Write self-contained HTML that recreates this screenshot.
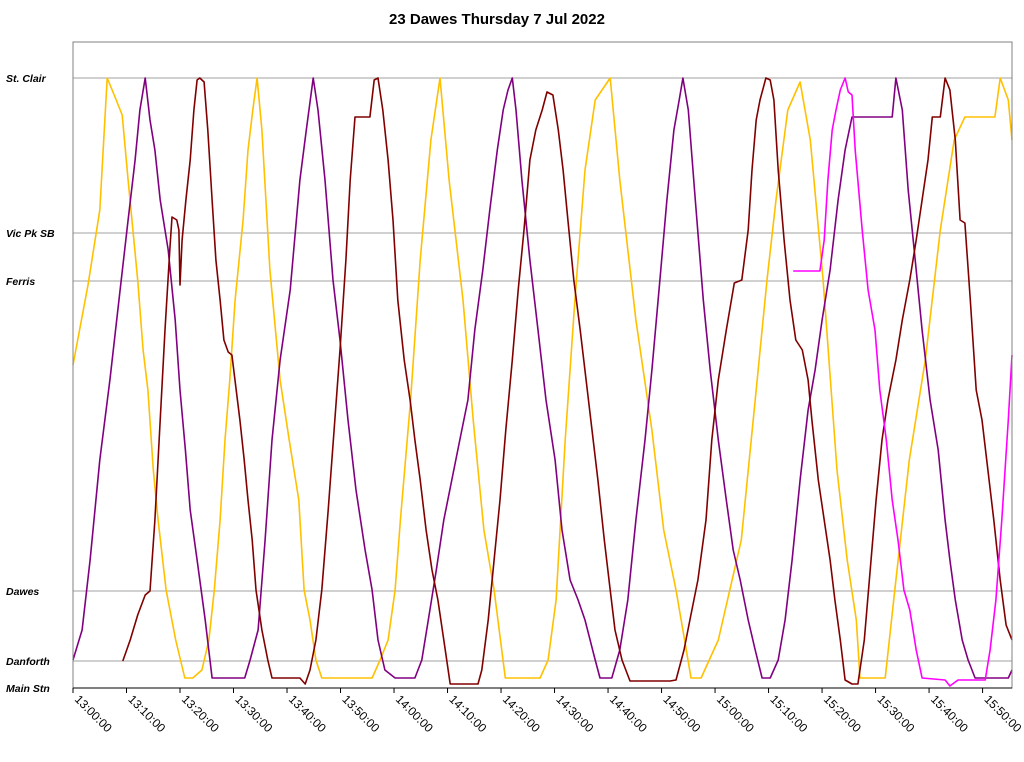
<!DOCTYPE html>
<html><head><meta charset="utf-8"><style>
body{margin:0;background:#fff;}
svg{display:block;font-family:"Liberation Sans",Arial,sans-serif;}
</style></head><body>
<svg id="chart" width="1024" height="762" viewBox="0 0 1024 762" xmlns="http://www.w3.org/2000/svg">
<text x="497" y="24" text-anchor="middle" font-size="15" font-weight="bold">23 Dawes Thursday 7 Jul 2022</text>
<g id="grid"></g><g id="series"></g><g id="axes"></g>
</svg>
<script>
const stopNames=["St. Clair","Vic Pk SB","Ferris","Dawes","Danforth","Main Stn"];
const stopValues=[610,455,407,97,27,0];
const tickLabels=["13:00:00","13:10:00","13:20:00","13:30:00","13:40:00","13:50:00","14:00:00","14:10:00","14:20:00","14:30:00","14:40:00","14:50:00","15:00:00","15:10:00","15:20:00","15:30:00","15:40:00","15:50:00"];
const tickMinutes=[0,10,20,30,40,50,60,70,80,90,100,110,120,130,140,150,160,170];
const goldT=[0,2.8,5.0,6.4,7.7,9.2,10.3,11.2,12.1,13.1,14.0,15.0,15.9,17.4,19.2,20.9,22.4,24.1,25.4,26.4,27.5,28.4,29.3,30.3,31.8,32.7,33.6,34.4,35.3,36.8,38.7,40.4,42.2,43.2,44.3,45.4,46.5,55.9,57.4,58.9,60.2,61.2,63.1,64.9,66.9,68.6,70.3,72.9,74.8,76.8,78.7,80.8,87.3,88.8,90.3,92.0,93.8,95.7,97.6,100.4,102.2,105.2,108.2,110.4,112.7,114.3,115.5,117.4,120.6,124.9,127.5,129.7,131.4,133.6,135.9,137.8,140.2,142.8,144.7,146.4,147.1,151.8,153.6,156.3,159.3,162.1,164.7,166.7,172.3,173.3,174.8,175.5];
const goldV=[323,403,478,610,593,573,508,458,408,338,298,218,168,98,48,10,10,18,48,98,168,248,308,388,468,538,578,610,558,418,308,248,188,98,68,28,10,10,28,48,98,168,288,428,548,610,508,388,268,158,98,10,10,28,88,248,388,518,588,610,508,368,258,158,98,48,10,10,48,148,288,408,488,578,606,548,408,218,128,68,10,10,98,228,328,458,548,571,571,610,588,548];
const purpleT=[0,1.7,3.2,5.0,6.9,8.8,10.3,11.6,12.5,13.5,14.4,15.3,16.3,17.8,19.1,20.0,21.0,21.9,23.2,24.7,26.0,32.1,33.1,34.6,35.9,37.2,38.7,40.6,42.4,43.6,44.9,45.8,47.1,48.6,49.9,51.4,52.9,54.6,55.9,57.0,58.3,60.2,63.9,65.2,66.4,67.9,69.3,70.8,72.3,73.8,75.1,76.6,77.9,79.3,80.4,81.3,82.1,82.8,83.9,85.4,86.9,88.4,90.1,91.4,92.9,94.4,95.7,97.6,98.5,100.7,102.2,103.7,105.2,106.9,108.2,109.7,111.0,112.3,113.3,114.0,115.0,116.3,117.8,119.1,120.6,122.1,123.4,124.7,126.2,127.5,128.8,130.3,131.8,133.1,134.4,135.9,137.4,138.7,140.0,141.5,143.0,144.3,145.6,153.1,153.8,155.0,156.1,157.4,158.7,160.2,161.7,163.0,163.9,164.9,166.2,167.3,168.6,174.8,175.5];
const purpleV=[28,58,128,228,308,398,468,528,578,610,568,538,488,438,368,298,238,178,128,68,10,10,28,58,148,248,328,398,508,558,610,578,508,408,348,268,198,138,98,48,18,10,10,28,68,118,168,208,248,288,358,418,478,538,578,598,610,578,508,428,358,288,228,158,108,88,68,28,10,10,38,88,168,248,318,408,488,558,588,610,578,488,388,318,248,188,138,108,68,38,10,10,28,68,128,208,278,318,368,418,488,538,571,571,610,578,498,428,358,288,238,168,128,88,48,28,10,10,18];
const redT=[9.3,10.7,12.1,13.5,14.4,15.3,16.3,17.2,18.1,18.5,19.4,19.8,20.0,20.4,21.1,21.9,22.6,23.2,23.7,24.5,25.2,26.0,26.7,27.5,28.2,29.0,29.7,30.5,31.2,32.0,32.7,33.5,34.2,35.3,36.4,37.2,42.4,43.4,44.3,45.4,46.5,47.7,48.8,49.9,51.0,51.8,52.7,55.5,56.3,57.0,57.9,58.9,59.8,60.7,61.9,63.0,63.9,64.9,66.0,67.1,68.2,69.3,70.5,75.7,76.4,77.6,78.7,79.8,80.9,82.1,83.2,84.3,85.4,86.5,87.7,88.6,89.7,90.7,91.6,92.5,93.6,94.8,95.9,97.0,98.1,99.3,100.4,101.3,102.6,104.1,111.6,112.7,114.2,115.3,116.8,118.3,119.4,120.6,122.1,123.6,125.0,126.2,126.9,127.7,128.4,129.5,130.3,131.0,131.8,132.9,134.0,135.1,136.3,137.4,138.1,139.3,140.4,141.5,142.4,143.4,144.3,145.6,146.7,147.9,149.0,150.1,151.2,152.3,153.8,155.0,156.4,157.6,158.7,159.8,160.6,162.1,163.0,163.9,164.9,165.8,166.7,167.7,168.8,169.9,171.0,172.1,173.3,174.4,175.5];
const redV=[27,48,73,93,97,168,268,358,438,471,468,458,403,448,488,528,578,608,610,606,558,488,428,388,348,336,333,298,268,228,188,148,98,58,28,10,10,4,18,48,98,178,258,338,428,508,571,571,608,610,578,528,468,388,328,288,248,208,158,118,88,48,4,4,18,68,128,188,258,328,398,458,528,558,578,596,593,558,518,468,408,358,308,258,208,148,98,58,28,7,7,8,38,68,108,168,248,308,358,405,408,458,518,568,588,610,608,588,518,448,388,348,338,308,268,208,168,128,88,48,8,4,4,48,118,188,248,288,328,368,408,448,488,528,571,571,610,598,548,468,465,388,298,268,218,168,108,63,48];
const magT=[134.6,139.6,140.4,141.1,141.9,142.6,143.4,144.3,144.9,145.6,146.2,147.5,148.6,149.9,150.8,152.0,153.1,154.2,155.3,156.4,157.6,158.7,163.0,163.9,165.4,170.5,171.4,172.5,173.6,174.8,175.5];
const magV=[417,417,448,508,558,578,598,610,596,593,538,458,398,358,298,248,188,148,98,78,38,10,8,2,8,8,38,88,168,268,333];

const X0=73,X1=1012,Y0=688,Y1=42,TMAX=175.5,VMAX=646;
const xs=t=>X0+(t/TMAX)*(X1-X0);
const ys=v=>Y0-(v/VMAX)*(Y0-Y1);
const NS="http://www.w3.org/2000/svg";
function mk(tag,attrs,parent){const e=document.createElementNS(NS,tag);for(const k in attrs)e.setAttribute(k,attrs[k]);parent.appendChild(e);return e;}
const grid=document.getElementById('grid'),axes=document.getElementById('axes'),series=document.getElementById('series');

stopNames.forEach((n,i)=>{
  const y=ys(stopValues[i]);
  if(stopValues[i]>0){
    const l=mk('line',{x1:X0,x2:X1,y1:y,y2:y,stroke:'#a0a0a0','stroke-width':1},grid);
    
    
  }
  const t=mk('text',{x:6,y:y+4,'font-size':10.5,'font-weight':'bold','font-style':'italic'},axes);
  t.textContent=n;
  
  
});
const frame=mk('rect',{x:X0,y:Y1,width:X1-X0,height:Y0-Y1,fill:'none',stroke:'#808080','stroke-width':1},axes);


const xa=mk('line',{x1:X0,x2:X1,y1:Y0,y2:Y0,stroke:'#000','stroke-width':1},axes);


tickMinutes.forEach((m,i)=>{
  const x=xs(m);
  const tk=mk('line',{x1:x,x2:x,y1:Y0,y2:Y0+5,stroke:'#000'},axes);
  
  
  const t=mk('text',{x:x+1,y:Y0+12,'font-size':12,transform:`rotate(45 ${x+1} ${Y0+12})`},axes);
  t.textContent=tickLabels[i];
  
  
});
function line(T,V,color,name){
  const d=T.map((t,i)=>(i?'L':'M')+xs(t).toFixed(1)+' '+ys(V[i]).toFixed(1)).join(' ');
  const p=mk('path',{d:d,fill:'none',stroke:color,'stroke-width':1.6,'stroke-linejoin':'round'},series);
  
  
}
line(goldT,goldV,'#FFC000','series-gold-vehicle');
line(purpleT,purpleV,'#800080','series-purple-vehicle');
line(redT,redV,'#800000','series-darkred-vehicle');
line(magT,magV,'#FF00FF','series-magenta-vehicle');
</script>
</body></html>
